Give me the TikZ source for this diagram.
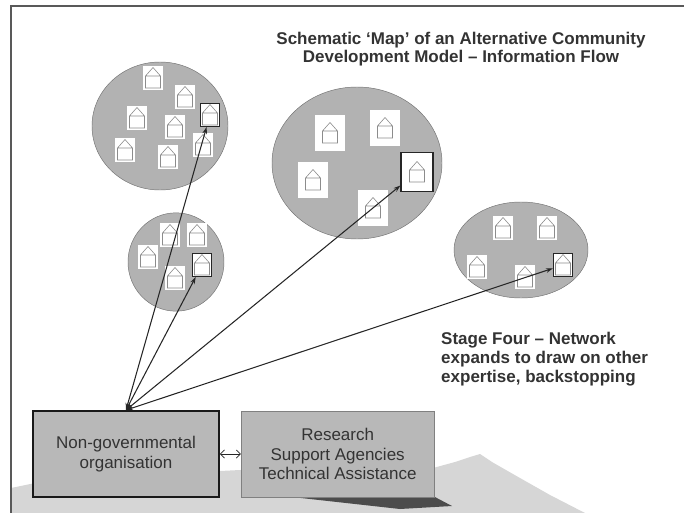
\documentclass[tikz,border=0pt]{standalone}
\usepackage{fontspec}
\setmainfont{Liberation Sans}
\usepackage{tikz}
\usetikzlibrary{shapes, arrows.meta, positioning}
\usetikzlibrary{calc}

\begin{document}
\begin{tikzpicture}
  [
    x=0.03cm, y=-0.03cm,
    Blob/.style={ellipse, draw=black!55, fill=black!30, thin, inner sep=0pt},
    Hut/.style={rectangle, fill=white, inner sep=0pt, minimum width=#1*0.03cm, minimum height=#1*0.036cm,
      path picture={
        \begin{scope}[shift={(path picture bounding box.center)}, scale=#1/20]
          \draw[black!45, line width=0.5pt] (-7.5,-2) -- (-7.5,10) -- (7.5,10) -- (7.5,-2) -- cycle
            (-7.5,-2) -- (0,-10.5) -- (7.5,-2);
        \end{scope}}},
    Goal/.style={Hut=#1, draw=black!85, line width=1pt},
    Box/.style={rectangle, fill=black!28, align=center, text=black!80,
      font=\fontsize{14.5}{17}\selectfont, minimum height=2.58cm},
    Note/.style={font=\fontsize{14.5}{16}\selectfont\bfseries, text=black!80, inner sep=0pt},
    Link/.style={{Stealth[length=6pt, width=4pt]}-{Stealth[length=6pt, width=4pt]}, draw, black!85, line width=0.9pt}
  ]
  \useasboundingbox (0,0) rectangle (684,513);
  % Ground and hill
  \fill[black!16] (11,488) -- (40,482) -- (120,476) -- (240,470) -- (433,468) -- (455,462)
    -- (470,457) -- (480,454) -- (492,462) -- (520,478) -- (550,495) -- (585,513) -- (11,513) -- cycle;
  \fill[black!70] (283,496) -- (433,496) -- (452,506) -- (400,509) -- cycle;
  % Frame
  \draw[black!65, line width=1.2pt] (684,6) -- (11,6) -- (11,513);
  % Communities
  \node[Blob, minimum width=4.08cm, minimum height=3.84cm] (e1) at (160,126) {};
  \node[Blob, minimum width=2.88cm, minimum height=2.95cm] (e2) at (176,262) {};
  \node[Blob, minimum width=5.10cm, minimum height=4.56cm] (e3) at (357,163) {};
  \node[Blob, minimum width=4.02cm, minimum height=2.88cm] (e4) at (521,250) {};
  % Houses
  \node[Hut=20] (a1) at (153,78) {};
  \node[Hut=20] (a2) at (185,97) {};
  \node[Hut=20] (a3) at (137,118) {};
  \node[Hut=20] (a4) at (175,127) {};
  \node[Goal=19] (a5) at (210,115) {};
  \node[Hut=20] (a6) at (203,145) {};
  \node[Hut=20] (a7) at (125,150) {};
  \node[Hut=20] (a8) at (168,157) {};
  \node[Hut=20] (b1) at (170,235) {};
  \node[Hut=20] (b2) at (197,235) {};
  \node[Hut=20] (b3) at (148,257) {};
  \node[Goal=19] (b4) at (202,265) {};
  \node[Hut=20] (b5) at (175,278) {};
  \node[Hut=30] (c1) at (330,133) {};
  \node[Hut=30] (c2) at (385,128) {};
  \node[Hut=30] (c3) at (313,180) {};
  \node[Goal=32] (c4) at (417,172) {};
  \node[Hut=30] (c5) at (373,208) {};
  \node[Hut=20] (d1) at (503,228) {};
  \node[Hut=20] (d2) at (547,228) {};
  \node[Hut=20] (d3) at (477,267) {};
  \node[Goal=19] (d4) at (563,265) {};
  \node[Hut=20] (d5) at (525,277) {};
  % Organisations
  \node[Box, draw=black!90, line width=1.6pt, minimum width=5.58cm] (ngo) at (126,454)
    {Non-governmental\\organisation};
  \node[Box, draw=black!50, thin, minimum width=5.79cm, right=0.63cm of ngo] (rsa)
    {Research\\Support Agencies\\Technical Assistance};
  % Text
  \node[Note, align=center] (title) at (461,49)
    {Schematic `Map' of an Alternative Community\\Development Model -- Information Flow};
  \node[Note, align=left, anchor=west] (stage) at (441,359)
    {Stage Four -- Network\\expands to draw on other\\expertise, backstopping};
  % Lines
  \path [Link] (ngo.north) -- (a5);
  \path [Link] (ngo.north) -- (b4);
  \path [Link] (ngo.north) -- (c4);
  \path [Link] (ngo.north) -- (d4);
  \path [draw, black!85, semithick, {Straight Barb[length=3.5pt]}-{Straight Barb[length=3.5pt]}] (ngo) -- (rsa);
\end{tikzpicture}
\end{document}
